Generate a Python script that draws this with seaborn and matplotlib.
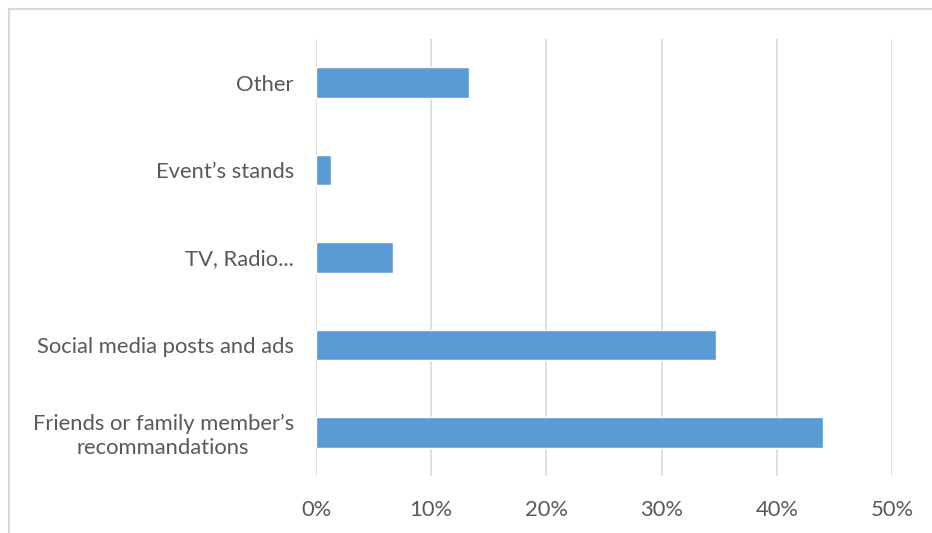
import matplotlib
matplotlib.use("Agg")
import matplotlib.pyplot as plt
from matplotlib.patches import Rectangle
from matplotlib.ticker import FuncFormatter
import seaborn as sns
import pandas as pd

# How respondents heard about us (share of answers, %)
sources = [
    "Other",
    "Event\u2019s stands",
    "TV, Radio...",
    "Social media posts and ads",
    "Friends or family member\u2019s\nrecommandations",
]
shares = [13.3, 1.3, 6.7, 34.7, 44.0]
x_ticks = [0, 10, 20, 30, 40, 50]

df = pd.DataFrame({"source": sources, "share": shares})

sns.set_theme(style="white")
plt.rcParams["font.family"] = ["Lato", "DejaVu Sans"]

text_color = "#595959"
grid_color = "#d9d9d9"
bar_color = "#5b9bd5"

fig = plt.figure(figsize=(9.32, 5.33), dpi=100)
ax = fig.add_axes([316 / 932, 1 - 476 / 533, (892 - 316) / 932, (476 - 39) / 533])

sns.barplot(data=df, x="share", y="source", order=sources, color=bar_color,
            width=0.35, saturation=1, ax=ax, zorder=3)

ax.set_xlim(0, 50)
ax.set_ylim(4.5, -0.5)
ax.set_xticks(x_ticks)
ax.xaxis.set_major_formatter(FuncFormatter(lambda v, _: f"{v:.0f}%"))
ax.set_xlabel("")
ax.set_ylabel("")

ax.grid(axis="x", color=grid_color, linewidth=1.2, zorder=0)
ax.grid(axis="y", visible=False)
for side in ["top", "right", "bottom", "left"]:
    ax.spines[side].set_visible(False)

ax.tick_params(axis="y", length=0, pad=16, labelsize=15.8, labelcolor=text_color)
ax.tick_params(axis="x", length=0, pad=17, labelsize=15.8, labelcolor=text_color)
for lab in ax.get_yticklabels():
    lab.set_multialignment("center")
    lab.set_linespacing(1.25)

# thin frame around the chart area
fig.patches.append(Rectangle((9 / 932, -0.1), 1.2, 1 - 9 / 533 + 0.1,
                             transform=fig.transFigure, fill=False,
                             edgecolor=grid_color, linewidth=1.5))

fig.savefig("out.png", dpi=100)
